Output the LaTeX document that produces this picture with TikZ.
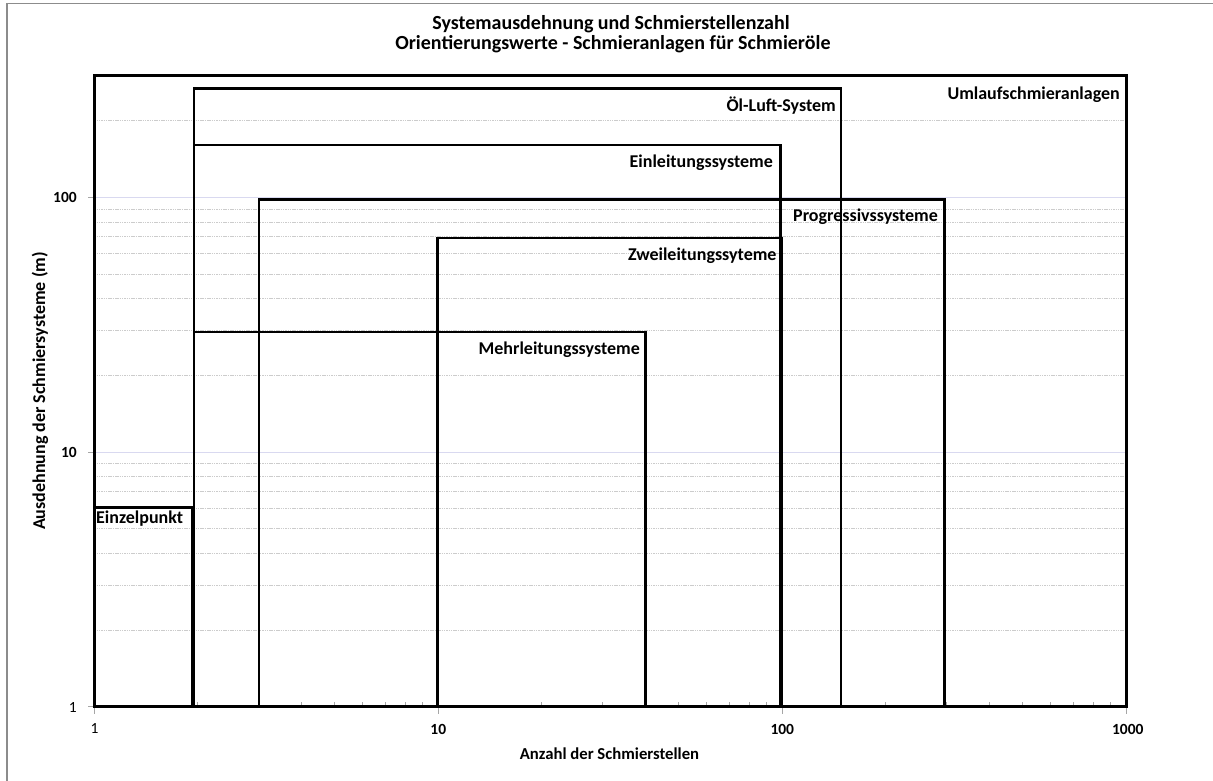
\documentclass[tikz,border=0pt]{standalone}
\usepackage{fontspec}
\setmainfont{Carlito}
\begin{document}
\begin{tikzpicture}[x=1pt,y=-1pt,
  box/.style={line width=2.9pt, line join=miter, line cap=rect},
  minorgrid/.style={draw=black!20, line width=0.7pt, dash pattern=on 1.5pt off 0.8pt},
  majorgrid/.style={draw=blue!60!black!15, line width=0.8pt},
  tickc/.style={draw=black!35, line width=0.8pt},
  lbl/.style={font=\bfseries\fontsize{18}{21}\selectfont, inner sep=0pt},
  ttl/.style={font=\bfseries\fontsize{20}{24}\selectfont, inner sep=0pt},
  axt/.style={font=\bfseries\fontsize{16.7}{20}\selectfont, inner sep=0pt},
  ayt/.style={font=\bfseries\fontsize{18}{21}\selectfont, inner sep=0pt},
  tkl/.style={font=\bfseries\fontsize{15.5}{18}\selectfont, inner sep=0pt},
  tkn/.style={font=\fontsize{15.5}{18}\selectfont, inner sep=0pt}]
\useasboundingbox (0,0) rectangle (1213,781);
\fill[white] (0,0) rectangle (1213,781);
\draw[black!45, line width=1.2pt] (7,781) -- (7,3.3) -- (1213,3.3);
% gridlines
\foreach \v in {2,3,4,5,6,7,8,9,20,30,40,50,60,70,80,90,200}
  \draw[minorgrid] (94.3,{706.7-254.7*log10(\v)}) -- (1126.3,{706.7-254.7*log10(\v)});
\draw[majorgrid] (94.3,452) -- (1126.3,452);
\draw[majorgrid] (94.3,197.3) -- (1126.3,197.3);
% ticks
\foreach \px in {94.3,438.3,782.3,1126.3}
  \draw[tickc] (\px,706.7) -- (\px,714);
\foreach \py in {706.7,452,197.3}
  \draw[tickc] (94.3,\py) -- (87.5,\py);
\foreach \d in {0,1,2}
  \foreach \m in {2,...,9}
    \draw[tickc] ({94.3+344*(\d+log10(\m))},706.7) -- ({94.3+344*(\d+log10(\m))},702);
% boxes
\draw[box] (94.3,706.7) rectangle (1126.3,75.5);
\draw[box] (194,706.7) rectangle (841,88.7);
\draw[box] (194,706.7) rectangle (780.5,145);
\draw[box] (259,706.7) rectangle (944.3,199.3);
\draw[box] (437.8,706.7) rectangle (781.7,238);
\draw[box] (194,706.7) rectangle (645.7,332);
\draw[box] (94.3,706.7) rectangle (192.7,507.3);
% labels
\node[lbl, anchor=east] (umlauf) at (1120,95) {Umlaufschmieranlagen};
\node[lbl, anchor=east] (olluft) at (836,106) {Öl-Luft-System};
\node[lbl, anchor=east] (einl) at (773,163) {Einleitungssysteme};
\node[lbl, anchor=west] (progr) at (793,217) {Progressivssysteme};
\node[lbl, anchor=east] (zweil) at (776.7,256) {Zweileitungssyteme};
\node[lbl, anchor=east] (mehrl) at (640,350) {Mehrleitungssysteme};
\node[lbl, anchor=west] (einzel) at (96,519) {Einzelpunkt};
% title
\node[ttl, anchor=base] (t1) at (611,30) {Systemausdehnung und Schmierstellenzahl};
\node[ttl, anchor=base] (t2) at (613,50) {Orientierungswerte - Schmieranlagen für Schmieröle};
% tick labels
\node[tkn] (x1) at (94.5,729) {1};
\node[tkl] (x10) at (438.3,729) {10};
\node[tkl] (x100) at (782.3,729) {100};
\node[tkl] (x1000) at (1127.8,729) {1000};
\node[tkn, anchor=east] (y1) at (77,708) {1};
\node[tkl, anchor=east] (y10) at (77,452) {10};
\node[tkl, anchor=east] (y100) at (77,197.3) {100};
% axis titles
\node[axt] (xt) at (609.5,754) {Anzahl der Schmierstellen};
\node[ayt, rotate=90] (yt) at (40,391) {Ausdehnung der Schmiersysteme (m)};
\end{tikzpicture}
\end{document}
